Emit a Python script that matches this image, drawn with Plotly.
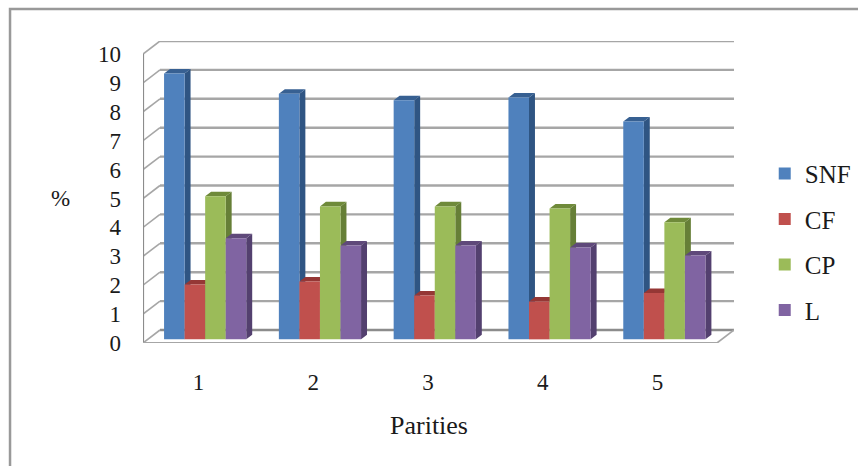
import plotly.graph_objects as go

# Chart data
parities = [1, 2, 3, 4, 5]
snf = [9.2, 8.5, 8.27, 8.37, 7.54]
cf = [1.9, 2.0, 1.52, 1.31, 1.6]
cp = [4.95, 4.6, 4.6, 4.53, 4.05]
lactose = [3.5, 3.25, 3.25, 3.18, 2.9]
y_ticks = list(range(0, 11))

series = [
    ("SNF", snf, "#4f81bd", "#2f5583", "#376092"),
    ("CF", cf, "#c0504d", "#8c3836", "#953735"),
    ("CP", cp, "#9bbb59", "#667f37", "#6f8a3a"),
    ("L", lactose, "#8064a2", "#53406f", "#5f497a"),
]

# Oblique projection: how far the rear of the box sits from its front
DEPTH_X = 0.148
DEPTH_Y = 0.45
BAR_FRONT = 0.28
BAR_REAR = 0.63
BAR_WIDTH = 0.179

GRID = "#a6a6a6"
AXIS = "#8c8c8c"
SERIF = "Liberation Serif"
TEXT = "#1a1a1a"
X_MIN, X_MAX = 0.5, 5.5


def project(x, y, depth):
    return x + depth * DEPTH_X, y + depth * DEPTH_Y


def line_trace(xs, ys, color, width, zorder=0):
    return go.Scatter(x=xs, y=ys, mode="lines", line=dict(color=color, width=width),
                      showlegend=False, hoverinfo="skip", cliponaxis=False, zorder=zorder)


fig = go.Figure()

# Rear wall gridlines and the slanted ticks on the side wall
for tick in y_ticks:
    x0, y0 = project(X_MIN, tick, 1)
    x1, y1 = project(X_MAX, tick, 1)
    fig.add_trace(line_trace([x0, x1], [y0, y1], AXIS if tick == 0 else GRID, 2.4))
    fig.add_trace(line_trace([X_MIN, x0], [tick, y0], GRID, 1.6))

# Front edges of the box and the floor's right edge
fig.add_trace(line_trace([X_MIN, X_MIN], [0, 10], AXIS, 2.2))
fig.add_trace(line_trace([X_MIN, X_MAX], [0, 0], GRID, 2.2))
xr, yr = project(X_MAX, 0, 1)
fig.add_trace(line_trace([X_MAX, xr], [0, yr], GRID, 1.6))

# Bars, painted left to right so each front covers its neighbour's side face
base = BAR_FRONT * DEPTH_Y
span = BAR_REAR - BAR_FRONT
for idx, (name, values, face, side, top) in enumerate(series):
    order = 1 + 3 * idx
    lefts = [p + BAR_FRONT * DEPTH_X + (idx - 2) * BAR_WIDTH for p in parities]
    side_x, side_y, top_x, top_y = [], [], [], []
    for left, val in zip(lefts, values):
        right = left + BAR_WIDTH
        h = base + val
        sx = span * DEPTH_X
        sy = span * DEPTH_Y
        side_x += [right, right + sx, right + sx, right, right, None]
        side_y += [base, base + sy, h + sy, h, base, None]
        top_x += [left, left + sx, right + sx, right, left, None]
        top_y += [h, h + sy, h + sy, h, h, None]
    fig.add_trace(go.Scatter(x=side_x, y=side_y, mode="lines", fill="toself", fillcolor=side,
                             line=dict(width=0), showlegend=False, hoverinfo="skip", zorder=order))
    fig.add_trace(go.Scatter(x=top_x, y=top_y, mode="lines", fill="toself", fillcolor=top,
                             line=dict(width=0), showlegend=False, hoverinfo="skip", zorder=order + 1))
    fig.add_trace(go.Bar(x=[l + BAR_WIDTH / 2 for l in lefts], y=values, base=base,
                         width=BAR_WIDTH, name=name, marker=dict(color=face, line=dict(width=0)),
                         legendgroup=name, zorder=order + 2))

fig.update_layout(
    width=858, height=466, autosize=False,
    margin=dict(l=143, r=124, t=41, b=123, autoexpand=False),
    paper_bgcolor="white", plot_bgcolor="white",
    barmode="overlay",
    font=dict(family=SERIF, size=23, color=TEXT),
    xaxis=dict(range=[X_MIN, X_MAX + DEPTH_X], tickvals=parities, ticktext=[str(p) for p in parities],
               showgrid=False, zeroline=False, showline=False, ticks="",
               ticklabelstandoff=23, ticklabelshift=-2, fixedrange=True),
    yaxis=dict(range=[0, 10 + DEPTH_Y], tickvals=y_ticks, showgrid=False, zeroline=False,
               showline=False, ticks="", ticklabelstandoff=21, fixedrange=True),
    legend=dict(x=1.052, xanchor="left", y=0.335, yanchor="middle", bgcolor="rgba(0,0,0,0)",
                tracegroupgap=10, font=dict(family=SERIF, size=25, color=TEXT)),
    shapes=[dict(type="rect", xref="paper", yref="paper", x0=-0.225, x1=1.4, y0=-0.7, y1=1.106,
                 line=dict(color="#999999", width=2.5), fillcolor="rgba(0,0,0,0)", layer="below")],
    annotations=[
        dict(text="%", xref="paper", yref="paper", x=-0.139, y=0.477, xanchor="center", yanchor="middle",
             showarrow=False, font=dict(family=SERIF, size=23, color=TEXT)),
        dict(text="Parities", xref="paper", yref="paper", x=0.484, y=-0.272, xanchor="center", yanchor="middle",
             showarrow=False, font=dict(family=SERIF, size=26, color=TEXT)),
    ],
)

fig.write_html("out.html")
